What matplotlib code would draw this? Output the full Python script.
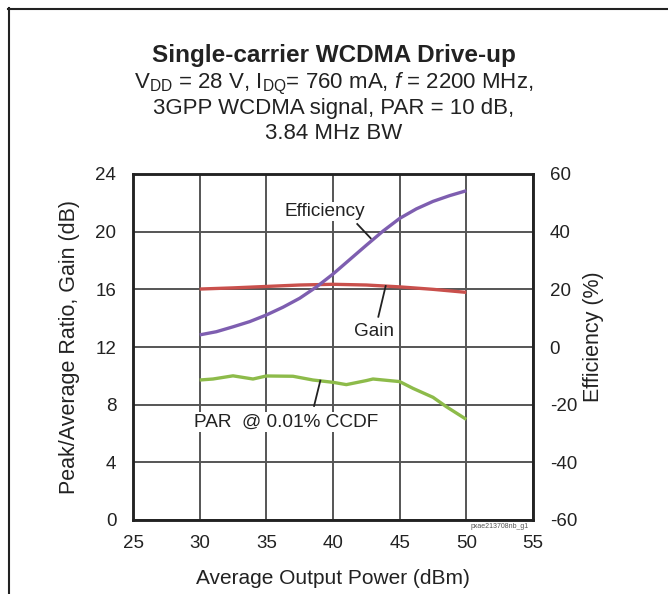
import matplotlib
matplotlib.use("Agg")
import matplotlib.pyplot as plt
from matplotlib.lines import Line2D

plt.rcParams['font.family'] = ['Liberation Sans', 'DejaVu Sans']
plt.rcParams['mathtext.fontset'] = 'custom'
plt.rcParams['mathtext.rm'] = 'Liberation Sans'
plt.rcParams['mathtext.it'] = 'Liberation Sans:italic'
plt.rcParams['axes.unicode_minus'] = False

# Data
pout_eff = [30, 31.25, 32.5, 33.75, 35, 36.25, 37.5, 38.75, 40, 41.25, 42.5, 43.75, 45, 46.25, 47.5, 48.75, 50]
efficiency = [4.2, 5.3, 7.0, 8.8, 11.1, 13.8, 16.9, 20.8, 25.3, 30.3, 35.3, 40.2, 44.6, 47.9, 50.5, 52.5, 54.2]

pout_gain = [30, 32.5, 35, 37.5, 40, 42.5, 45, 47.5, 50]
gain = [16.02, 16.1, 16.2, 16.3, 16.35, 16.3, 16.17, 16.0, 15.79]

pout_par = [30, 31, 32.5, 34, 35, 37, 38.5, 40, 41, 42.5, 43, 44, 45, 46, 47.5, 48.5, 50]
par = [9.71, 9.78, 10.0, 9.78, 9.99, 9.97, 9.71, 9.55, 9.39, 9.67, 9.78, 9.69, 9.60, 9.13, 8.51, 7.86, 6.98]

x_ticks = [25, 30, 35, 40, 45, 50, 55]
y_ticks = [0, 4, 8, 12, 16, 20, 24]
y2_ticks = [-60, -40, -20, 0, 20, 40, 60]

W, H = 668, 594
fig = plt.figure(figsize=(W / 100, H / 100), dpi=100)

def fx(px):
    return px / W

def fy(py):
    return 1 - py / H

TXT = '#222222'
left, right, top, bottom = 133, 533, 174, 520
ax = fig.add_axes([fx(left), fy(bottom), fx(right) - fx(left), fy(top) - fy(bottom)])
ax2 = ax.twinx()

ax.set_xlim(25, 55)
ax.set_ylim(0, 24)
ax2.set_ylim(-60, 60)
ax.set_xticks(x_ticks)
ax.set_yticks(y_ticks)
ax2.set_yticks(y2_ticks)
ax.grid(True, color='#555555', linewidth=1.4)
ax.set_axisbelow(True)
for a in (ax, ax2):
    for s in a.spines.values():
        s.set_linewidth(1.8)
        s.set_color(TXT)
ax.tick_params(axis='both', length=0, labelsize=13.5, colors=TXT)
ax.tick_params(axis='y', pad=12)
ax.tick_params(axis='x', pad=11)
ax2.tick_params(axis='y', length=0, labelsize=13.5, colors=TXT, pad=12)

ax.plot(pout_gain, gain, color='#C9504C', linewidth=2.4, solid_capstyle='butt')
ax.plot(pout_par, par, color='#8DBB4A', linewidth=2.4, solid_capstyle='butt')
ax2.plot(pout_eff, efficiency, color='#7E5EB0', linewidth=2.4, solid_capstyle='butt')

ax.set_xlabel('Average Output Power (dBm)', fontsize=15, color=TXT, va='center')
ax.xaxis.set_label_coords(0.5, (bottom - 578) / (bottom - top))
ax.set_ylabel('Peak/Average Ratio, Gain (dB)', fontsize=15.5, color=TXT, va='center')
ax.yaxis.set_label_coords((70 - left) / (right - left), 0.5)
ax2.set_ylabel('Efficiency (%)', fontsize=15.5, color=TXT, va='center')
ax2.yaxis.set_label_coords((594 - left) / (right - left), (bottom - 337) / (bottom - top))

# annotations
box = dict(facecolor='white', edgecolor='none', pad=1)
ax.text(39.4, 21.39, 'Efficiency', fontsize=13.7, ha='center', va='center', color=TXT, bbox=box)
ax.plot([41.82, 42.83], [20.53, 19.54], color=TXT, linewidth=1.3)
ax.text(43.08, 13.06, 'Gain', fontsize=13.7, ha='center', va='center', color=TXT, bbox=box)
ax.plot([43.4, 43.95], [14.1, 16.23], color=TXT, linewidth=1.3)
ax.text(36.45, 6.78, 'PAR  @ 0.01% CCDF', fontsize=13.7, ha='center', va='center', color=TXT, bbox=box)
ax.plot([38.58, 39.05], [7.91, 9.67], color=TXT, linewidth=1.3)

ax.text(52.5, -0.2, 'pxae213708nb_g1', fontsize=5, ha='center', va='top', color='#555555')

# Title block
fig.text(0.5, fy(62), 'Single-carrier WCDMA Drive-up', fontsize=17.5, fontweight='bold',
         ha='center', va='baseline', color=TXT)
fig.text(0.5, fy(88), r'V$_{\mathrm{DD}}$ = 28 V, I$_{\mathrm{DQ}}$= 760 mA, $\mathit{f}$ = 2200 MHz,',
         fontsize=16, ha='center', va='baseline', color=TXT)
fig.text(0.5, fy(114), '3GPP WCDMA signal, PAR = 10 dB,', fontsize=16, ha='center', va='baseline', color=TXT)
fig.text(0.5, fy(139), '3.84 MHz BW', fontsize=16, ha='center', va='baseline', color=TXT)

# Figure border (top and left)
fig.add_artist(Line2D([fx(8), 1.0], [fy(8.5), fy(8.5)], transform=fig.transFigure, color=TXT, linewidth=1.5))
fig.add_artist(Line2D([fx(8.5), fx(8.5)], [fy(8), 0.0], transform=fig.transFigure, color=TXT, linewidth=1.5))

fig.savefig('out.png', dpi=100)
